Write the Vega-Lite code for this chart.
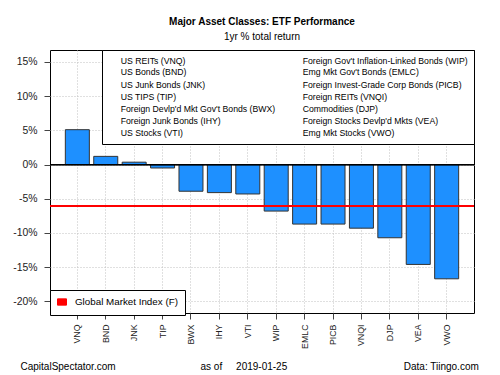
{
  "$schema": "https://vega.github.io/schema/vega-lite/v6.json",
  "autosize": {"type": "none"},
  "width": 424,
  "height": 263,
  "padding": {"left": 50, "top": 50, "right": 26, "bottom": 62},
  "background": "white",
  "title": {
    "text": "Major Asset Classes: ETF Performance",
    "subtitle": "1yr % total return",
    "fontSize": 10,
    "fontWeight": "bold",
    "subtitleFontSize": 10,
    "color": "#000000",
    "subtitleColor": "#000000",
    "anchor": "middle",
    "offset": 8,
    "subtitlePadding": 5,
    "font": "Liberation Sans",
    "subtitleFont": "Liberation Sans"
  },
  "datasets": {
    "etf": [
      {"ticker": "VNQ", "name": "US REITs (VNQ)", "value": 5.1},
      {"ticker": "BND", "name": "US Bonds (BND)", "value": 1.2},
      {"ticker": "JNK", "name": "US Junk Bonds (JNK)", "value": 0.35},
      {"ticker": "TIP", "name": "US TIPS (TIP)", "value": -0.5},
      {"ticker": "BWX", "name": "Foreign Devlp'd Mkt Gov't Bonds (BWX)", "value": -3.9},
      {"ticker": "IHY", "name": "Foreign Junk Bonds (IHY)", "value": -4.1},
      {"ticker": "VTI", "name": "US Stocks (VTI)", "value": -4.3},
      {"ticker": "WIP", "name": "Foreign Gov't Inflation-Linked Bonds (WIP)", "value": -6.8},
      {"ticker": "EMLC", "name": "Emg Mkt Gov't Bonds (EMLC)", "value": -8.7},
      {"ticker": "PICB", "name": "Foreign Invest-Grade Corp Bonds (PICB)", "value": -8.7},
      {"ticker": "VNQI", "name": "Foreign REITs (VNQI)", "value": -9.3},
      {"ticker": "DJP", "name": "Commodities (DJP)", "value": -10.7},
      {"ticker": "VEA", "name": "Foreign Stocks Devlp'd Mkts (VEA)", "value": -14.6},
      {"ticker": "VWO", "name": "Emg Mkt Stocks (VWO)", "value": -16.7}
    ],
    "gmi": [{"series": "Global Market Index (F)", "value": -6.05}]
  },
  "layer": [
    {
      "data": {"name": "etf"},
      "encoding": {
        "x": {
          "field": "ticker", "type": "nominal", "sort": null,
          "scale": {"paddingInner": 0.155, "paddingOuter": 0.54},
          "axis": {
            "title": "as of\u00a0\u00a0\u00a0\u00a0\u00a02019-01-25",
            "titleX": 150, "titleY": 56, "titleAlign": "left", "titleAnchor": "start",
            "titleBaseline": "alphabetic", "titleFontSize": 10, "titleFontWeight": "normal", "titleColor": "#000000",
            "labelAngle": -90, "labelFontSize": 8.8, "labelPadding": 5, "labelColor": "#222222",
            "tickSize": 6, "tickColor": "#444444", "domain": false,
            "grid": true, "gridDash": [1, 2], "gridColor": "#c0c0c0"
          }
        },
        "y": {
          "field": "value", "type": "quantitative",
          "scale": {"domain": [-21.7, 16.75], "nice": false, "zero": false},
          "axis": {
            "values": [-20, -15, -10, -5, 0, 5, 10, 15],
            "labelExpr": "datum.value + '%'",
            "labelOverlap": false,
            "title": "CapitalSpectator.com",
            "titleAngle": 0, "titleX": -30, "titleY": 319.5, "titleAlign": "left", "titleAnchor": "start",
            "titleBaseline": "alphabetic", "titleFontSize": 10, "titleFontWeight": "normal", "titleColor": "#000000",
            "labelFontSize": 10.4, "labelPadding": 7, "labelColor": "#222222",
            "tickSize": 6, "tickColor": "#444444", "domain": false,
            "grid": true, "gridDash": [1, 2], "gridColor": "#c0c0c0"
          }
        }
      },
      "layer": [
        {
          "mark": {"type": "bar", "fill": "#1E90FF", "stroke": "#333333", "strokeWidth": 1}
        },
        {
          "mark": {"type": "point", "opacity": 0},
          "encoding": {
            "shape": {
              "field": "name", "type": "nominal",
              "scale": {
                "domain": [
                  "US REITs (VNQ)", "US Bonds (BND)", "US Junk Bonds (JNK)", "US TIPS (TIP)",
                  "Foreign Devlp'd Mkt Gov't Bonds (BWX)", "Foreign Junk Bonds (IHY)", "US Stocks (VTI)",
                  "Foreign Gov't Inflation-Linked Bonds (WIP)", "Emg Mkt Gov't Bonds (EMLC)",
                  "Foreign Invest-Grade Corp Bonds (PICB)", "Foreign REITs (VNQI)", "Commodities (DJP)",
                  "Foreign Stocks Devlp'd Mkts (VEA)", "Emg Mkt Stocks (VWO)"
                ],
                "range": ["circle"]
              },
              "legend": {
                "orient": "none", "legendX": 52, "legendY": 0,
                "columns": 2, "direction": "vertical", "title": null,
                "padding": 6, "strokeColor": "#000000", "fillColor": "#ffffff",
                "symbolOpacity": 0, "symbolSize": 25, "labelOffset": 4,
                "rowPadding": 2.1, "columnPadding": 14,
                "labelFontSize": 8.7, "labelLimit": 300, "labelColor": "#000000"
              }
            }
          }
        },
        {
          "mark": {"type": "rule", "color": "#000000", "strokeWidth": 1},
          "encoding": {"x": null, "y": {"datum": 0, "type": "quantitative"}}
        }
      ]
    },
    {
      "data": {"name": "gmi"},
      "mark": {"type": "rule", "strokeWidth": 2},
      "encoding": {
        "y": {
          "field": "value", "type": "quantitative",
          "scale": {"domain": [-21.7, 16.75], "nice": false, "zero": false},
          "axis": {
            "orient": "right", "labels": false, "ticks": false, "domain": false, "grid": false,
            "title": "Data: Tiingo.com",
            "titleAngle": 0, "titleX": 4.3, "titleY": 319.5, "titleAlign": "right", "titleAnchor": "end",
            "titleBaseline": "alphabetic", "titleFontSize": 10, "titleFontWeight": "normal", "titleColor": "#000000"
          }
        },
        "color": {
          "field": "series", "type": "nominal",
          "scale": {"range": ["#FF0000"]},
          "legend": {
            "orient": "none", "legendX": 0, "legendY": 240, "title": null,
            "padding": 7, "strokeColor": "#000000", "fillColor": "#ffffff",
            "symbolType": "M-1,-0.7H1V0.7H-1Z", "symbolSize": 81,
            "symbolFillColor": "#FF0000", "symbolStrokeColor": "#000000", "symbolStrokeWidth": 1,
            "labelOffset": 8, "labelFontSize": 9.8, "labelColor": "#000000",
            "encode": {"symbols": {"update": {"fill": {"value": "#FF0000"}, "stroke": {"value": "#000000"}, "strokeWidth": {"value": 1}, "opacity": {"value": 1}}}}
          }
        }
      }
    }
  ],
  "resolve": {"scale": {"y": "independent"}},
  "config": {
    "font": "Liberation Sans",
    "view": {"stroke": "#000000", "strokeWidth": 1}
  }
}
